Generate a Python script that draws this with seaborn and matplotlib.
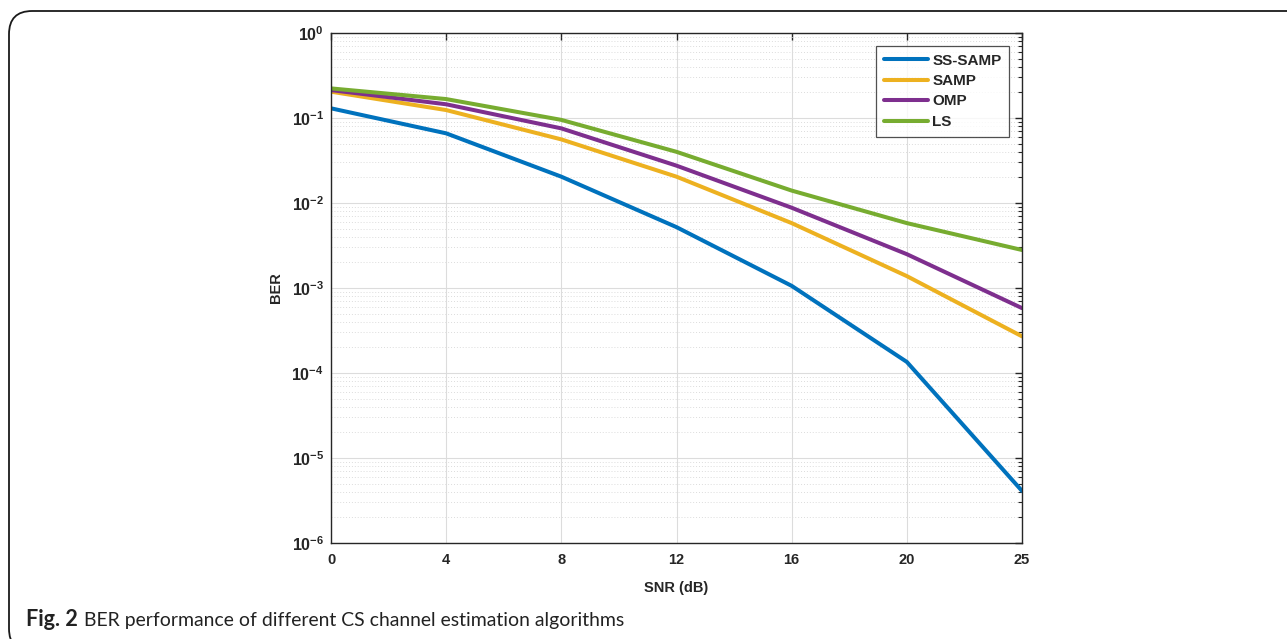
import numpy as np
import pandas as pd
import seaborn as sns
import matplotlib
matplotlib.use("Agg")
import matplotlib.pyplot as plt
from matplotlib.patches import FancyBboxPatch
from matplotlib.ticker import FixedLocator, NullFormatter, FuncFormatter

snr_labels = ["0", "4", "8", "12", "16", "20", "25"]
ss_samp = [0.130, 0.066, 0.0204, 0.0052, 0.00106, 0.000135, 0.0000041]
samp = [0.204, 0.124, 0.056, 0.0204, 0.0058, 0.00138, 0.00027]
omp = [0.213, 0.145, 0.0755, 0.0275, 0.0088, 0.0025, 0.00058]
ls = [0.223, 0.167, 0.095, 0.040, 0.014, 0.0058, 0.0028]
series_names = ["SS-SAMP", "SAMP", "OMP", "LS"]
colors = ["#0072BD", "#EDB120", "#7E2F8E", "#77AC30"]
decades = [-6, -5, -4, -3, -2, -1, 0]
caption_bold = "Fig. 2"
caption_text = "BER performance of different CS channel estimation algorithms"

sns.set_theme(style="white")
plt.rcParams['font.family'] = ['Liberation Sans', 'DejaVu Sans']
plt.rcParams['mathtext.fontset'] = 'custom'
plt.rcParams['mathtext.rm'] = 'Liberation Sans'
plt.rcParams['mathtext.bf'] = 'Liberation Sans:bold'
plt.rcParams['mathtext.it'] = 'Liberation Sans:italic'

rows = []
for name, vals in zip(series_names, [ss_samp, samp, omp, ls]):
    for i, v in enumerate(vals):
        rows.append({"idx": i, "BER": v, "Method": name})
df = pd.DataFrame(rows)

W, H = 1287, 639
fig = plt.figure(figsize=(W/100, H/100), dpi=100)
ax = fig.add_axes([331/W, 1 - 543/H, (1022-331)/W, (543-33)/H])

sns.lineplot(data=df, x="idx", y="BER", hue="Method", hue_order=series_names,
             palette=colors, linewidth=2.9, ax=ax, legend=True)

ax.set_yscale("log")
ax.set_ylim(1e-6, 1)
ax.set_xlim(0, 6)

ax.xaxis.set_major_locator(FixedLocator(range(len(snr_labels))))
ax.set_xticklabels(snr_labels, fontweight="bold", fontsize=10.5, color="#262626")
major_y = [10.0 ** d for d in decades]
minor_y = [k * 10.0 ** d for d in decades[:-1] for k in range(2, 10)]
ax.yaxis.set_major_locator(FixedLocator(major_y))
ax.yaxis.set_minor_locator(FixedLocator(minor_y))
ax.yaxis.set_minor_formatter(NullFormatter())
ax.yaxis.set_major_formatter(FuncFormatter(lambda v, p: r"$\mathbf{10^{%d}}$" % int(round(np.log10(v)))))
ax.tick_params(axis="y", labelsize=11.5, labelcolor="#262626", pad=5)
ax.tick_params(axis="x", pad=7)

ax.tick_params(which="both", direction="in", top=True, right=True, color="#262626")
ax.tick_params(which="major", length=5, width=1)
ax.tick_params(which="minor", length=3, width=0.8)

ax.grid(which="major", color="#dcdcdc", linewidth=0.8, linestyle="-")
ax.grid(which="minor", axis="y", color="#dcdcdc", linewidth=0.7, linestyle=(0, (1, 2)))
ax.set_axisbelow(True)
for s in ax.spines.values():
    s.set_color("#262626")
    s.set_linewidth(1.0)

ax.set_xlabel("SNR (dB)", fontweight="bold", fontsize=10.5, color="#262626", labelpad=10)
ax.set_ylabel("BER", fontweight="bold", fontsize=10.5, color="#262626", labelpad=6)

leg = ax.legend(loc="upper right", frameon=True, fancybox=False, edgecolor="#262626",
                prop={"weight": "bold", "size": 11}, handlelength=2.9, handletextpad=0.25,
                borderpad=0.5, labelspacing=0.42, borderaxespad=0.0,
                bbox_to_anchor=((1009-331)/(1022-331), 1 - (46-33)/(543-33)))
leg.get_frame().set_linewidth(0.9)
for line in leg.get_lines():
    line.set_linewidth(2.9)

# outer frame with rounded top-left corner
frame = FancyBboxPatch((9/W, -0.02), 1.2, (H - 11)/H + 0.02,
                       boxstyle="round,pad=0,rounding_size=0.018",
                       transform=fig.transFigure, fill=False,
                       edgecolor="#1a1a1a", linewidth=1.3, mutation_aspect=W/H)
fig.add_artist(frame)

cap_font = ["Lato", "DejaVu Sans"]
renderer = fig.canvas.get_renderer()
base_y = 1 - 626/H
t1 = fig.text(26/W, base_y, caption_bold, fontsize=13, fontweight="bold",
              family=cap_font, va="baseline", ha="left", color="#222222")
bb = t1.get_window_extent(renderer=renderer)
t1.set_fontsize(13 * 52 / bb.width)
t2 = fig.text(84/W, base_y, caption_text,
              fontsize=13, family=cap_font, va="baseline", ha="left", color="#222222")
bb2 = t2.get_window_extent(renderer=renderer)
t2.set_fontsize(13 * 540 / bb2.width)

fig.savefig("out.png", dpi=100)
